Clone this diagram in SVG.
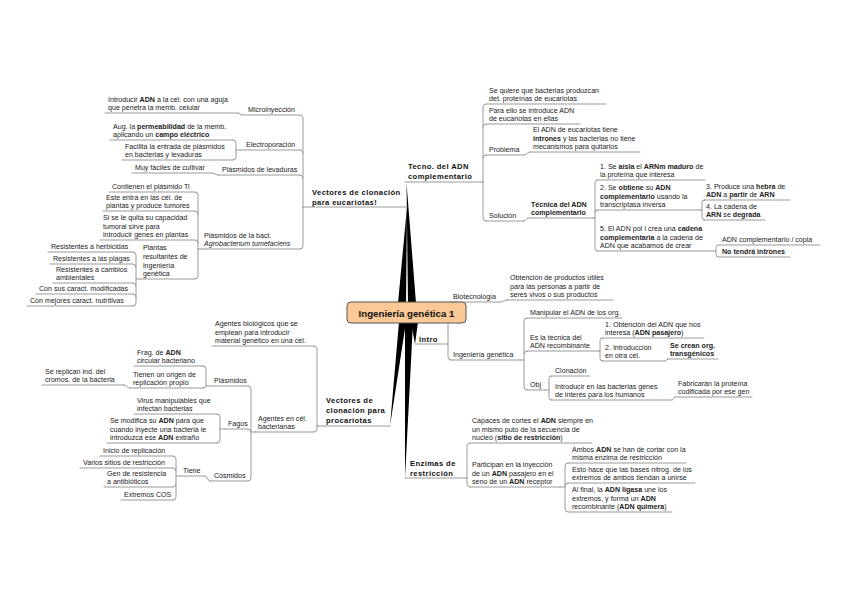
<svg xmlns="http://www.w3.org/2000/svg" width="848" height="599" viewBox="0 0 848 599">
<style>
text{font-family:"Liberation Sans",Arial,sans-serif;font-size:7.1px;fill:#222}
.b{font-weight:bold}
.i{font-style:italic}
.m{font-size:7.6px;font-weight:bold;letter-spacing:0.4px;fill:#111}
.ct{font-size:9.7px;font-weight:bold;fill:#111;text-anchor:middle}
.u,.c{stroke:#8e8e8e;stroke-width:0.9;fill:none;stroke-linecap:round}
.w{fill:#000}
</style>
<rect width="848" height="599" fill="#fff"/>
<g id="connectors">
<polygon class="w" points="408,303 416,303 406.5,183"/>
<polygon class="w" points="398,303 406,303 407,207"/>
<polygon class="w" points="411,322 418,322 415,344"/>
<polygon class="w" points="399,322 406,322 390,426"/>
<polygon class="w" points="405,322 413,322 405,478"/>
<path class="c" d="M483,182 V107 Q483,104 486,104 M483,127 Q483,124 486,124 M483,158 Q483,155 486,155 M483,182 V218 Q483,221 486,221"/>
<path class="c" d="M524,155 C527,155 527,152 530,152 M524,221 C526,221 526,218 528,218"/>
<path class="c" d="M593,218 H595 V182.5 Q595,180 597.5,180 M595,212.5 Q595,210 597.5,210 M595,218 V248.5 Q595,251 597.5,251"/>
<path class="c" d="M700,210 H702 V202.5 Q702,200 704.5,200 M702,210 V217.5 Q702,220 704.5,220"/>
<path class="c" d="M713,251 H716 V247.5 Q716,245 718.5,245 M716,251 V254.5 Q716,257 718.5,257"/>
<path class="c" d="M303,207 V118 Q303,115 300,115 M303,153 Q303,150 300,150 M303,178 Q303,175 300,175 M303,207 V246 Q303,249 300,249"/>
<path class="c" d="M242,115 C240,115 240,113 238,113 M240,150 H236 V143 Q236,140 233,140 M236,150 V157 Q236,160 233,160 M218,175 C215,175 215,173 212,173"/>
<path class="c" d="M202,249 H198 V195 Q198,192 195,192 M198,214 Q198,211 195,211 M198,243 Q198,240 195,240 M198,249 V276 Q198,279 195,279"/>
<path class="c" d="M140,279 H136 V255 Q136,252 133,252 M136,267 Q136,264 133,264 M136,286 Q136,283 133,283 M136,279 V303 Q136,306 133,306 M136,297 Q136,294 133,294"/>
<path class="c" d="M317,426 V349 Q317,346 314,346 M317,426 V429 Q317,432 314,432"/>
<path class="c" d="M255,432 H251 V389 Q251,386 248,386 M251,432 Q251,429 248,429 M251,432 V478 Q251,481 248,481"/>
<path class="c" d="M211,386 H206 V369 Q206,366 203,366 M206,386 Q206,388 203,388 M130,388 C127,388 127,385 124,385"/>
<path class="c" d="M225,429 H220 V417 Q220,414 217,414 M220,429 V440 Q220,443 217,443"/>
<path class="c" d="M210,481 C207,481 208,476 205,476 M180,476 H176 V459 Q176,456 173,456 M176,471 Q176,468 173,468 M176,476 V497 Q176,500 173,500 M176,484 Q176,487 173,487"/>
<path class="c" d="M465,478 H467 V446 Q467,443 470,443 M467,478 V484 Q467,487 470,487"/>
<path class="c" d="M560,487 H565 V466 Q565,463 568,463 M565,486 Q565,483 568,483 M565,487 V509 Q565,512 568,512"/>
<path class="c" d="M448,344 V305 Q448,302 451,302 M448,344 V357 Q448,360 451,360 M500,302 C503,302 504,300 507,300"/>
<path class="c" d="M520,360 H524 V321 Q524,318 527,318 M524,354 Q524,351 527,351 M524,360 V387 Q524,390 527,390"/>
<path class="c" d="M598,351 H600 V340.5 Q600,338 602.5,338 M600,351 V358.5 Q600,361 602.5,361 M665,361 C666.5,361 666.5,359 668,359"/>
<path class="c" d="M545,390 H549 V378.5 Q549,376 551.5,376 M549,390 V397.5 Q549,400 551.5,400 M672,400 C673.5,400 673.5,397 675,397"/>
</g>
<g id="n-central"><rect x="347" y="302" width="119" height="21" rx="4" fill="#fbc897" stroke="#555" stroke-width="1"/><text class="ct" x="406.5" y="316.5">Ingeniería genética 1</text></g>
<g id="n-tecno"><text class="m"><tspan x="408" y="169">Tecno. del ADN</tspan><tspan x="408" y="179">complementario</tspan></text><path class="u" d="M405,182 H483"/></g>
<g id="n-t1"><text><tspan x="489" y="92.6">Se quiere que bacterias produzcan</tspan><tspan x="489" y="101.2">det. proteínas de eucariotas</tspan></text><path class="u" d="M486,104 H606"/></g>
<g id="n-t2"><text><tspan x="489" y="112.6">Para ello se introduce ADN</tspan><tspan x="489" y="121.2">de eucariotas en ellas</tspan></text><path class="u" d="M486,124 H580"/></g>
<g id="n-prob"><text x="489" y="152.2">Problema</text><path class="u" d="M486,155 H524"/></g>
<g id="n-prob1"><text><tspan x="533" y="132">El ADN de eucariotas tiene</tspan><tspan x="533" y="140.6"><tspan class="b">intrones</tspan> y las bacterias no tiene</tspan><tspan x="533" y="149.2">mecanismos para quitarlos</tspan></text><path class="u" d="M530,152 H640"/></g>
<g id="n-sol"><text x="489" y="218.2">Solución</text><path class="u" d="M486,221 H524"/></g>
<g id="n-tec"><text class="b"><tspan x="531" y="206.6">Técnica del ADN</tspan><tspan x="531" y="215.2">complementario</tspan></text><path class="u" d="M528,218 H593"/></g>
<g id="n-s1"><text><tspan x="600" y="168.6">1. Se <tspan class="b">aísla</tspan> el <tspan class="b">ARNm maduro</tspan> de</tspan><tspan x="600" y="177.2">la proteína que interesa</tspan></text><path class="u" d="M597,180 H705"/></g>
<g id="n-s2"><text><tspan x="600" y="190">2. Se <tspan class="b">obtiene</tspan> su <tspan class="b">ADN</tspan></tspan><tspan x="600" y="198.6"><tspan class="b">complementario</tspan> usando la</tspan><tspan x="600" y="207.2">transcriptasa inversa</tspan></text><path class="u" d="M597,210 H700"/></g>
<g id="n-s3"><text><tspan x="706" y="188.6">3. Produce una <tspan class="b">hebra</tspan> de</tspan><tspan x="706" y="197.2"><tspan class="b">ADN</tspan> a <tspan class="b">partir</tspan> de <tspan class="b">ARN</tspan></tspan></text><path class="u" d="M704,200 H790"/></g>
<g id="n-s4"><text><tspan x="706" y="208.6">4. La cadena de</tspan><tspan x="706" y="217.2"><tspan class="b">ARN</tspan> se <tspan class="b">degrada</tspan></tspan></text><path class="u" d="M704,220 H765"/></g>
<g id="n-s5"><text><tspan x="600" y="231">5. El ADN pol I crea una <tspan class="b">cadena</tspan></tspan><tspan x="600" y="239.6"><tspan class="b">complementaria</tspan> a la cadena de</tspan><tspan x="600" y="248.2">ADN que acabamos de crear</tspan></text><path class="u" d="M597,251 H713"/></g>
<g id="n-s5a"><text x="722" y="242.2">ADN complementario / copia</text><path class="u" d="M719,245 H820"/></g>
<g id="n-s5b"><text class="b" x="722" y="254.2">No tendrá intrones</text><path class="u" d="M719,257 H790"/></g>
<g id="n-euc"><text class="m"><tspan x="312" y="195">Vectores de clonación</tspan><tspan x="312" y="205">para eucariotas!</tspan></text><path class="u" d="M303,207 H407"/></g>
<g id="n-micro"><text x="248" y="112.2">Microinyección</text><path class="u" d="M242,115 H300"/></g>
<g id="n-micro1"><text><tspan x="108" y="101.6">Introducir <tspan class="b">ADN</tspan> a la cél. con una aguja</tspan><tspan x="108" y="110.2">que penetra la memb. celular</tspan></text><path class="u" d="M105,113 H238"/></g>
<g id="n-electro"><text x="246" y="147.2">Electroporación</text><path class="u" d="M240,150 H300"/></g>
<g id="n-e1"><text><tspan x="113" y="128.6">Aug. la <tspan class="b">permeabilidad</tspan> de la memb.</tspan><tspan x="113" y="137.2">aplicando un <tspan class="b">campo eléctrico</tspan></tspan></text><path class="u" d="M110,140 H233"/></g>
<g id="n-e2"><text><tspan x="125" y="148.6">Facilita la entrada de plásmidos</tspan><tspan x="125" y="157.2">en bacterias y levaduras</tspan></text><path class="u" d="M122,160 H233"/></g>
<g id="n-lev"><text x="222" y="172.2">Plásmidos de levaduras</text><path class="u" d="M218,175 H300"/></g>
<g id="n-lev1"><text x="135" y="170.2">Muy fáciles de cultivar</text><path class="u" d="M132,173 H212"/></g>
<g id="n-agro"><text><tspan x="204" y="237.6">Plásmidos de la bact.</tspan><tspan x="204" y="246.2" class="i">Agrobacterium tumefaciens</tspan></text><path class="u" d="M202,249 H300"/></g>
<g id="n-a1"><text x="112" y="189.2">Contienen el plásmido Ti</text><path class="u" d="M109,192 H195"/></g>
<g id="n-a2"><text><tspan x="106" y="199.6">Este entra en las cél. de</tspan><tspan x="106" y="208.2">plantas y produce tumores</tspan></text><path class="u" d="M103,211 H195"/></g>
<g id="n-a3"><text><tspan x="103" y="220">Si se le quita su capacidad</tspan><tspan x="103" y="228.6">tumoral sirve para</tspan><tspan x="103" y="237.2">introducir genes en plantas</tspan></text><path class="u" d="M100,240 H195"/></g>
<g id="n-a4"><text><tspan x="143" y="250.4">Plantas</tspan><tspan x="143" y="259">resultantes de</tspan><tspan x="143" y="267.6">ingeniería</tspan><tspan x="143" y="276.2">genética</tspan></text><path class="u" d="M140,279 H195"/></g>
<g id="n-p1"><text x="51" y="249.2">Resistentes a herbicidas</text><path class="u" d="M48,252 H133"/></g>
<g id="n-p2"><text x="53" y="261.2">Resistentes a las plagas</text><path class="u" d="M50,264 H133"/></g>
<g id="n-p3"><text><tspan x="56" y="271.6">Resistentes a cambios</tspan><tspan x="56" y="280.2">ambientales</tspan></text><path class="u" d="M53,283 H133"/></g>
<g id="n-p4"><text x="39" y="291.2">Con sus caract. modificadas</text><path class="u" d="M36,294 H133"/></g>
<g id="n-p5"><text x="30" y="303.2">Con mejores caract. nutritivas</text><path class="u" d="M27,306 H133"/></g>
<g id="n-proc"><text class="m"><tspan x="326" y="403">Vectores de</tspan><tspan x="326" y="413">clonación para</tspan><tspan x="326" y="423">procariotas</tspan></text><path class="u" d="M317,426 H390"/></g>
<g id="n-pr1"><text><tspan x="215" y="326">Agentes biológicos que se</tspan><tspan x="215" y="334.6">emplean para introducir</tspan><tspan x="215" y="343.2">material genético en una cél.</tspan></text><path class="u" d="M212,346 H314"/></g>
<g id="n-pr2"><text><tspan x="258" y="420.6">Agentes en cél.</tspan><tspan x="258" y="429.2">bacterianas</tspan></text><path class="u" d="M255,432 H314"/></g>
<g id="n-plas"><text x="214" y="383.2">Plásmidos</text><path class="u" d="M211,386 H248"/></g>
<g id="n-pl1"><text><tspan x="137" y="354.6">Frag. de <tspan class="b">ADN</tspan></tspan><tspan x="137" y="363.2">circular bacteriano</tspan></text><path class="u" d="M134,366 H203"/></g>
<g id="n-pl2"><text><tspan x="133" y="376.6">Tienen un origen de</tspan><tspan x="133" y="385.2">replicación propio</tspan></text><path class="u" d="M130,388 H203"/></g>
<g id="n-pl3"><text><tspan x="45" y="373.6">Se replican ind. del</tspan><tspan x="45" y="382.2">cromos. de la bacteria</tspan></text><path class="u" d="M42,385 H124"/></g>
<g id="n-fag"><text x="228" y="426.2">Fagos</text><path class="u" d="M225,429 H248"/></g>
<g id="n-f1"><text><tspan x="137" y="402.6">Virus manipulables que</tspan><tspan x="137" y="411.2">infectan bacterias</tspan></text><path class="u" d="M134,414 H217"/></g>
<g id="n-f2"><text><tspan x="110" y="423">Se modifica su <tspan class="b">ADN</tspan> para que</tspan><tspan x="110" y="431.6">cuando inyecte una bacteria le</tspan><tspan x="110" y="440.2">introduzca ese <tspan class="b">ADN</tspan> extraño</tspan></text><path class="u" d="M107,443 H217"/></g>
<g id="n-cos"><text x="214" y="478.2">Cósmidos</text><path class="u" d="M210,481 H248"/></g>
<g id="n-tiene"><text x="183" y="473.2">Tiene</text><path class="u" d="M180,476 H205"/></g>
<g id="n-ti1"><text x="103" y="453.2">Inicio de replicación</text><path class="u" d="M100,456 H173"/></g>
<g id="n-ti2"><text x="83" y="465.2">Varios sitios de restricción</text><path class="u" d="M80,468 H173"/></g>
<g id="n-ti3"><text><tspan x="107" y="475.6">Gen de resistencia</tspan><tspan x="107" y="484.2">a antibióticos</tspan></text><path class="u" d="M104,487 H173"/></g>
<g id="n-ti4"><text x="124" y="497.2">Extremos COS</text><path class="u" d="M121,500 H173"/></g>
<g id="n-enz"><text class="m"><tspan x="410" y="466">Enzimas de</tspan><tspan x="410" y="476">restricción</tspan></text><path class="u" d="M405,478 H465"/></g>
<g id="n-en1"><text><tspan x="472" y="423">Capaces de cortes el <tspan class="b">ADN</tspan> siempre en</tspan><tspan x="472" y="431.6">un mismo puto de la secuencia de</tspan><tspan x="472" y="440.2">nucleó (<tspan class="b">sitio de restricción</tspan>)</tspan></text><path class="u" d="M470,443 H592"/></g>
<g id="n-en2"><text><tspan x="472" y="467">Participan en la inyección</tspan><tspan x="472" y="475.6">de un <tspan class="b">ADN</tspan> pasajero en el</tspan><tspan x="472" y="484.2">seno de un <tspan class="b">ADN</tspan> receptor</tspan></text><path class="u" d="M470,487 H560"/></g>
<g id="n-en3"><text><tspan x="572" y="451.6">Ambos <tspan class="b">ADN</tspan> se han de cortar con la</tspan><tspan x="572" y="460.2">misma enzima de restricción</tspan></text><path class="u" d="M568,463 H686"/></g>
<g id="n-en4"><text><tspan x="572" y="471.6">Esto hace que las bases nitrog. de los</tspan><tspan x="572" y="480.2">extremos de ambos tiendan a unirse</tspan></text><path class="u" d="M568,483 H695"/></g>
<g id="n-en5"><text><tspan x="572" y="492">Al final, la <tspan class="b">ADN ligasa</tspan> une los</tspan><tspan x="572" y="500.6">extremos, y forma un <tspan class="b">ADN</tspan></tspan><tspan x="572" y="509.2">recombinante (<tspan class="b">ADN quimera</tspan>)</tspan></text><path class="u" d="M568,512 H672"/></g>
<g id="n-intro"><text class="m" x="419" y="342">Intro</text><path class="u" d="M415,344 H448"/></g>
<g id="n-bio"><text x="453" y="299.2">Biotecnología</text><path class="u" d="M450,302 H500"/></g>
<g id="n-bio1"><text><tspan x="510" y="280">Obtención de productos útiles</tspan><tspan x="510" y="288.6">para las personas a partir de</tspan><tspan x="510" y="297.2">seres vivos o sus productos</tspan></text><path class="u" d="M507,300 H613"/></g>
<g id="n-ig"><text x="453" y="357.2">Ingeniería genética</text><path class="u" d="M450,360 H520"/></g>
<g id="n-ig1"><text x="530" y="315.2">Manipular el ADN de los org.</text><path class="u" d="M527,318 H622"/></g>
<g id="n-ig2"><text><tspan x="530" y="339.6">Es la técnica del</tspan><tspan x="530" y="348.2">ADN recombinante</tspan></text><path class="u" d="M527,351 H598"/></g>
<g id="n-ig21"><text><tspan x="605" y="326.6">1. Obtención del ADN que nos</tspan><tspan x="605" y="335.2">interesa (<tspan class="b">ADN pasajero</tspan>)</tspan></text><path class="u" d="M602,338 H704"/></g>
<g id="n-ig22"><text><tspan x="605" y="349.6">2. Introducción</tspan><tspan x="605" y="358.2">en otra cél.</tspan></text><path class="u" d="M602,361 H665"/></g>
<g id="n-ig221"><text class="b"><tspan x="670" y="347.6">Se crean org.</tspan><tspan x="670" y="356.2">transgénicos</tspan></text><path class="u" d="M667,359 H718"/></g>
<g id="n-obj"><text x="530" y="387.2">Obj</text><path class="u" d="M527,390 H545"/></g>
<g id="n-ob1"><text x="555" y="373.2">Clonación</text><path class="u" d="M551,376 H590"/></g>
<g id="n-ob2"><text><tspan x="555" y="388.6">Introducir en las bacterias genes</tspan><tspan x="555" y="397.2">de interés para los humanos</tspan></text><path class="u" d="M551,400 H672"/></g>
<g id="n-ob21"><text><tspan x="678" y="385.6">Fabricarán la proteína</tspan><tspan x="678" y="394.2">codificada por ese gen</tspan></text><path class="u" d="M675,397 H752"/></g>
</svg>
